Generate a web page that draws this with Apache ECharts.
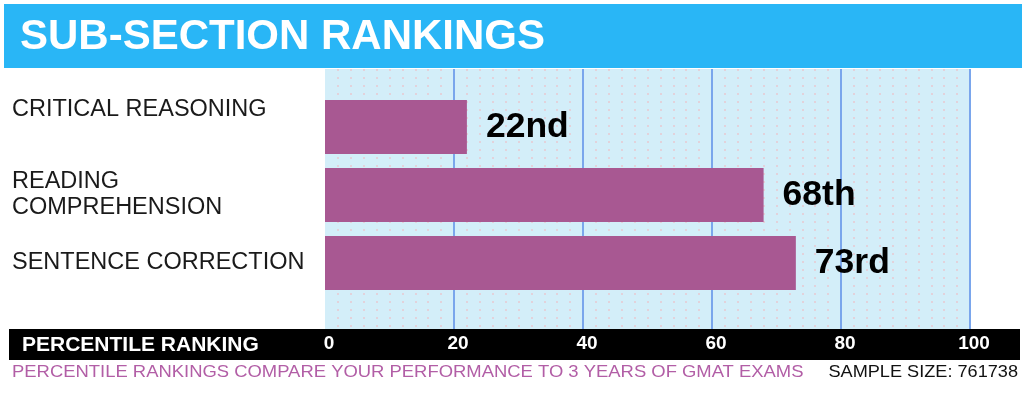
<!DOCTYPE html>
<html lang="en">
<head>
    <meta charset="UTF-8">
    <title>Sub-section rankings</title>
    <style>
        html, body { margin: 0; padding: 0; background: #fff; }
        #main { width: 1024px; height: 397px; }
    </style>
</head>
<body>
    <div id="main"></div>
    <script src="https://cdn.jsdelivr.net/npm/echarts@6/dist/echarts.min.js"></script>
    <script>
        // data
        var categories = ['CRITICAL REASONING', 'READING\nCOMPREHENSION', 'SENTENCE CORRECTION'];
        var percentiles = [22, 68, 73];
        var axisTicks = [0, 20, 40, 60, 80, 100];
        var titleText = 'SUB-SECTION RANKINGS';
        var axisName = 'PERCENTILE RANKING';
        var footNote = 'PERCENTILE RANKINGS COMPARE YOUR PERFORMANCE TO 3 YEARS OF GMAT EXAMS';
        var sampleSize = 761738;

        var FONT = 'Liberation Sans, Arial, sans-serif';

        function ordinal(n) {
            var s = ['th', 'st', 'nd', 'rd'];
            var v = n % 100;
            return n + (s[(v - 20) % 10] || s[v] || s[0]);
        }

        var myChart = echarts.init(document.getElementById('main'));

        var option = {
            animation: false,
            grid: [
                // background grid (light blue with lines)
                { left: 325, right: 54, top: 69, bottom: 68, show: true, backgroundColor: '#d3eef9',
                  borderWidth: 0, outerBoundsMode: 'none', containLabel: false },
                // bars
                { left: 325, right: 54, top: 93, bottom: 100, outerBoundsMode: 'none', containLabel: false }
            ],
            xAxis: [{
                gridIndex: 0,
                type: 'value',
                min: axisTicks[0],
                max: axisTicks[axisTicks.length - 1],
                interval: axisTicks[1] - axisTicks[0],
                axisLine: { show: false },
                axisTick: { show: false },
                axisLabel: {
                    color: '#fff', fontWeight: 'bold', fontSize: 19, fontFamily: FONT,
                    margin: 5, padding: [0, 0, 0, 8]
                },
                splitLine: { show: true, showMinLine: false, lineStyle: { color: '#7aa6ec', width: 2 } },
                minorTick: { show: false, splitNumber: 10 },
                minorSplitLine: { show: true, lineStyle: { color: '#e2d2db', width: 2, type: [2, 6] } }
            }, {
                gridIndex: 1,
                type: 'value',
                min: axisTicks[0],
                max: axisTicks[axisTicks.length - 1],
                show: false
            }],
            yAxis: [{
                gridIndex: 0,
                type: 'value',
                show: false
            }, {
                gridIndex: 1,
                type: 'category',
                inverse: true,
                data: categories,
                axisLine: { show: false },
                axisTick: { show: false },
                axisLabel: {
                    align: 'left', margin: 313, color: '#1a1a1a',
                    fontSize: 23.5, fontFamily: FONT, lineHeight: 26,
                    formatter: function (v, i) {
                        // first label sits higher than its bar in the original
                        return i === 0 ? '{p|' + v + '}\n{g| }' : v;
                    },
                    rich: {
                        p: { fontSize: 23.5, fontFamily: FONT, color: '#1a1a1a', lineHeight: 26 },
                        g: { fontSize: 10, lineHeight: 34 }
                    }
                }
            }],
            series: [{
                type: 'bar',
                xAxisIndex: 1,
                yAxisIndex: 1,
                data: percentiles,
                barWidth: 54,
                itemStyle: { color: '#a85892' },
                label: {
                    show: true, position: 'right', distance: 19,
                    color: '#000', fontWeight: 'bold', fontSize: 35.5, fontFamily: FONT,
                    formatter: function (p) { return ordinal(p.value); }
                }
            }],
            graphic: [
                { type: 'rect', z: -10, shape: { x: 4, y: 4, width: 1018, height: 64 }, style: { fill: '#29b6f6' } },
                { type: 'text', x: 20, y: 37, style: {
                    text: titleText, fill: '#fff', font: 'bold 42px ' + FONT, verticalAlign: 'middle' } },
                { type: 'rect', z: -10, shape: { x: 9, y: 329, width: 1011, height: 31 }, style: { fill: '#000' } },
                { type: 'text', x: 22, y: 345, style: {
                    text: axisName, fill: '#fff', font: 'bold 21px ' + FONT, verticalAlign: 'middle' } },
                { type: 'text', x: 12, y: 372, scaleX: 1.084, style: {
                    text: footNote, fill: '#b25ea6', font: '17px ' + FONT, verticalAlign: 'middle' } },
                { type: 'text', x: 1018, y: 372, scaleX: 1.067, style: {
                    text: 'SAMPLE SIZE: ' + sampleSize, fill: '#111', font: '17px ' + FONT,
                    align: 'right', verticalAlign: 'middle' } }
            ]
        };

        myChart.setOption(option);
    </script>
</body>
</html>
